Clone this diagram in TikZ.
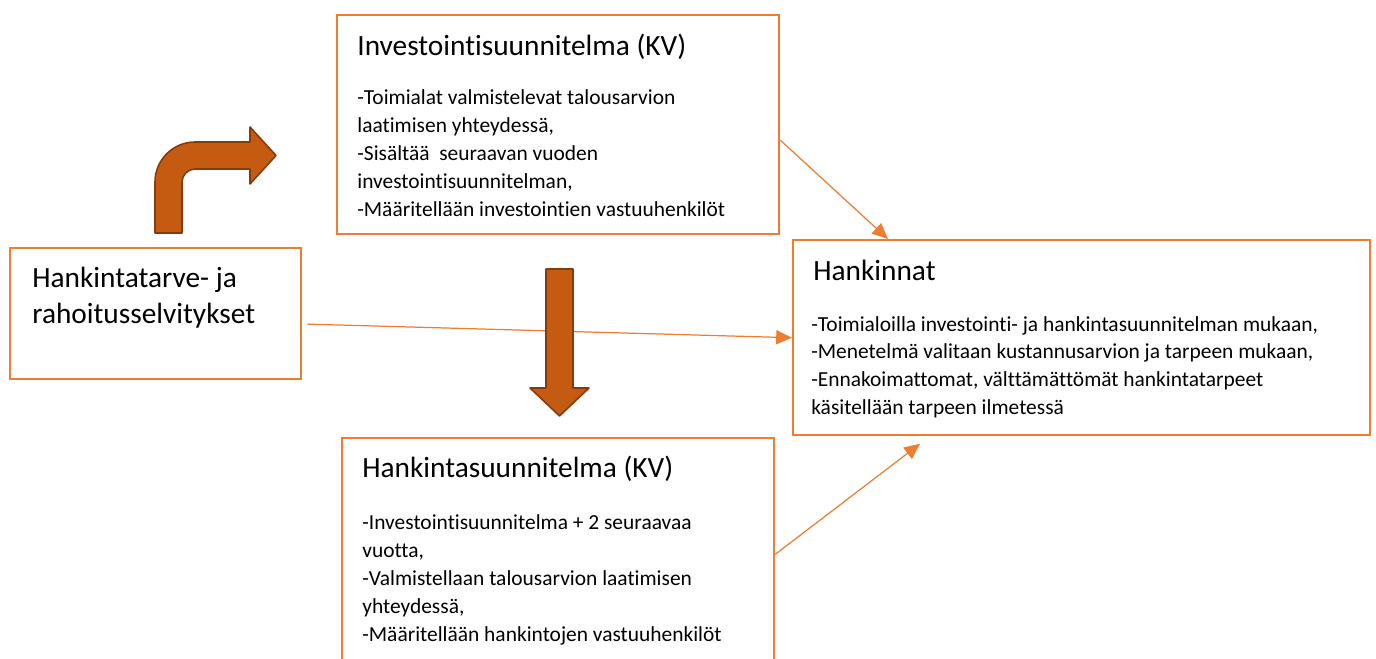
\documentclass[tikz,border=0pt]{standalone}
\usepackage{fontspec}
\setmainfont{Carlito}[RawFeature=-liga]
\usetikzlibrary{arrows.meta}
\definecolor{boxOrange}{HTML}{ED7D31}
\definecolor{arrowFill}{HTML}{C55A11}
\definecolor{arrowEdge}{HTML}{843C0C}
\tikzset{>={Triangle[length=9pt,width=8pt]}}
\tikzset{
  box/.style={draw=boxOrange, line width=1.4pt, anchor=north west, inner sep=0pt},
  title/.style={anchor=base west, inner sep=0pt, font=\fontsize{16.7}{20}\selectfont},
  body/.style={anchor=base west, inner sep=0pt, font=\fontsize{12.2}{15}\selectfont},
  conn/.style={->, draw=boxOrange, line width=0.7pt},
  bigArrow/.style={fill=arrowFill, draw=arrowEdge, line width=0.9pt, line join=round}
}

\begin{document}
\begin{tikzpicture}[x=0.02cm,y=-0.02cm]
\useasboundingbox (0,0) rectangle (1376,659);

% boxes
\node[box, minimum width=8.84cm, minimum height=4.38cm] (inv) at (336,14) {};
\node[box, minimum width=5.82cm, minimum height=2.62cm] (tarve) at (9,247) {};
\node[box, minimum width=11.54cm, minimum height=3.90cm] (hank) at (792,239) {};
\node[box, minimum width=8.64cm, minimum height=4.64cm] (hs) at (341,437) {};

% texts
\node[title] (invTitle) at (357,55) {Investointisuunnitelma (KV)};
\foreach \line [count=\i from 0] in {{-Toimialat valmistelevat talousarvion}, {laatimisen yhteydessä,}, {-Sisältää\ \ seuraavan vuoden}, {investointisuunnitelman,}, {-Määritellään investointien vastuuhenkilöt}}
  \node[body] (inv-\i) at (357,{104+28.2*\i}) {\line};

\node[title] (tarve-1) at (32,287) {Hankintatarve- ja};
\node[title] (tarve-2) at (32,323) {rahoitusselvitykset};

\node[title] (hankTitle) at (813,280) {Hankinnat};
\foreach \line [count=\i from 0] in {{-Toimialoilla investointi- ja hankintasuunnitelman mukaan,}, {-Menetelmä valitaan kustannusarvion ja tarpeen mukaan,}, {-Ennakoimattomat, välttämättömät hankintatarpeet}, {käsitellään tarpeen ilmetessä}}
  \node[body] (hank-\i) at (811,{331+27.8*\i}) {\line};

\node[title] (hsTitle) at (362,477) {Hankintasuunnitelma (KV)};
\foreach \line [count=\i from 0] in {{-Investointisuunnitelma + 2 seuraavaa}, {vuotta,}, {-Valmistellaan talousarvion laatimisen}, {yhteydessä,}, {-Määritellään hankintojen vastuuhenkilöt}}
  \node[body] (hs-\i) at (362,{529+28*\i}) {\line};

% connectors
\draw[conn] (inv.-4.3) -- (hank.153.8);
\draw[conn, shorten <=0.1cm] (tarve.-4.9) -- (hank.west);
\draw[conn, shorten >=0.24cm] (hs.east) -- (hank.213.6);

% bent arrow
\filldraw[bigArrow] (155,233) -- (155,182) .. controls (155,160) and (173,142) .. (195,142)
  -- (250,142) -- (250,127) -- (276,155.5) -- (250,184) -- (250,169) -- (195,169)
  .. controls (188,169) and (182,175) .. (182,182) -- (182,233) -- cycle;

% down arrow
\filldraw[bigArrow] (546,269) -- (573,269) -- (573,388) -- (589,388) -- (559.5,416)
  -- (530,388) -- (546,388) -- cycle;
\end{tikzpicture}
\end{document}
